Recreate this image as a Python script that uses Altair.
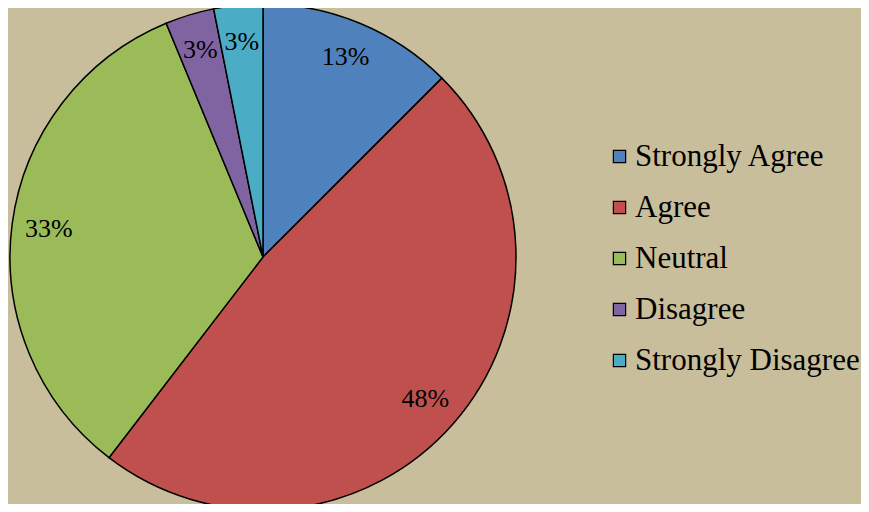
import altair as alt
import pandas as pd

categories = ["Strongly Agree", "Agree", "Neutral", "Disagree", "Strongly Disagree"]
counts = [12, 46, 32, 3, 3]
labels = ["13%", "48%", "33%", "3%", "3%"]
colors = ["#4F81BD", "#C0504D", "#9BBB59", "#8064A2", "#4BACC6"]

df = pd.DataFrame({"cat": categories, "n": counts, "label": labels,
                   "order": list(range(len(categories)))})

cx, cy, R = 255, 249, 253

base = alt.Chart(df).encode(
    theta=alt.Theta("n:Q", stack=True),
    order=alt.Order("order:Q"),
)

pie = base.mark_arc(stroke="black", strokeWidth=1.5, outerRadius=R).encode(
    x=alt.value(cx), y=alt.value(cy),
    color=alt.Color("cat:N", scale=alt.Scale(domain=categories, range=colors),
                    sort=categories,
                    legend=alt.Legend(title=None, orient="none", legendX=596, legendY=133,
                                      symbolType="square", symbolSize=150,
                                      symbolStrokeColor="black", symbolStrokeWidth=1.2,
                                      labelFont="Liberation Serif", labelFontSize=31,
                                      labelColor="black", labelOffset=0, labelLimit=0,
                                      rowPadding=19, padding=0)),
)

text = base.mark_text(font="Liberation Serif", fontSize=26, color="black", radius=216).encode(
    x=alt.value(cx), y=alt.value(cy),
    text="label:N",
)

chart = alt.layer(pie, text).properties(
    width=853, height=496, padding=0, autosize="none", background="#C8BE9B"
).configure_view(stroke=None)

chart.save("out.html", embed_options={"renderer": "svg", "actions": False})
